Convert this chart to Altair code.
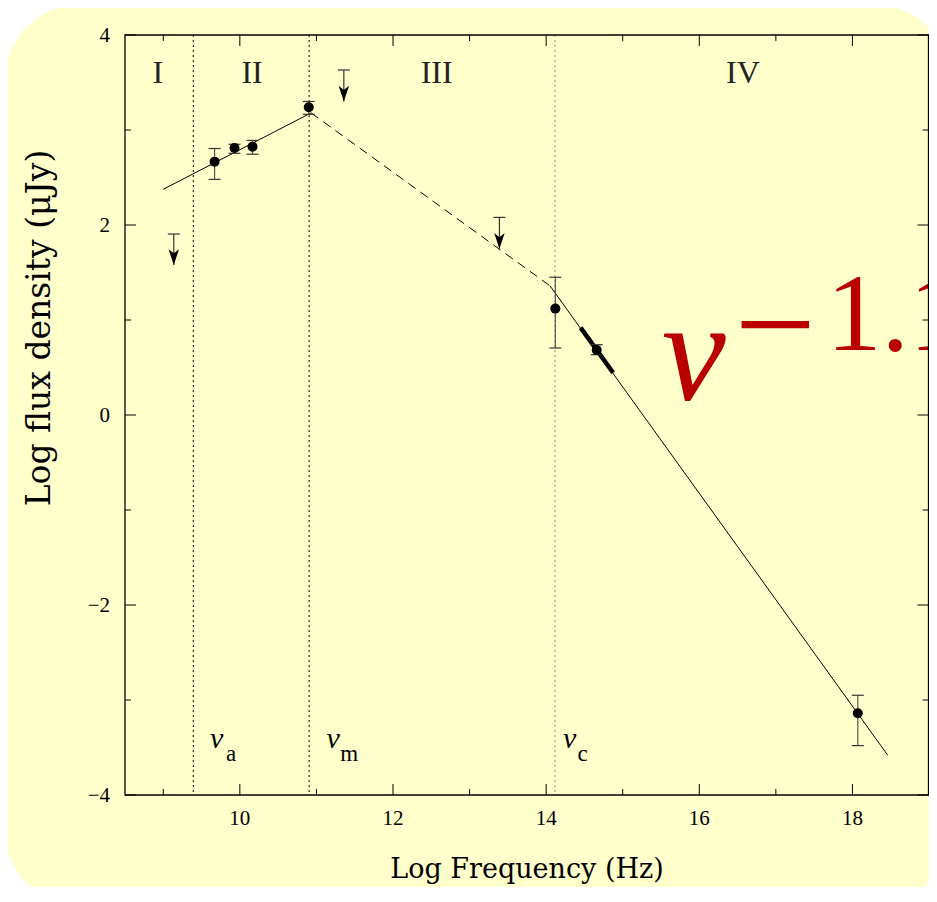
import altair as alt
import pandas as pd

# ---------------- data ----------------
# detections: log frequency, log flux, lower / upper error
det_logf = [9.67, 9.93, 10.165, 10.90, 14.12, 14.66, 18.07]
det_logs = [2.667, 2.81, 2.825, 3.24, 1.12, 0.685, -3.14]
det_lo = [2.48, 2.755, 2.745, 3.165, 0.705, 0.635, -3.48]
det_hi = [2.805, 2.85, 2.89, 3.30, 1.45, 0.74, -2.95]

# upper limits: log frequency, top of limit bar, arrow tip
ul_logf = [9.137, 11.358, 13.39]
ul_top = [1.905, 3.632, 2.08]
ul_tip = [1.58, 3.30, 1.75]

# model spectrum segments
seg_name = ["a", "a", "b", "b", "c", "c"]
seg_x = [9.0, 10.93, 10.93, 14.05, 14.05, 18.46]
seg_y = [2.376, 3.18, 3.18, 1.36, 1.36, -3.58]
seg_dash = ["solid", "solid", "dash", "dash", "solid", "solid"]

# optical spectral slope (thick)
opt_x = [14.45, 14.875]
opt_y = [0.92, 0.445]

# break frequencies
break_x = [9.392, 10.905, 14.115]
break_col = ["#000000", "#000000", "#8c8c8c"]

# region labels
region_txt = ["I", "II", "III", "IV"]
region_x = [8.93, 10.16, 12.57, 16.57]
region_y = [3.495, 3.495, 3.495, 3.495]

# break labels
nu_sub = ["a", "m", "c"]
nu_x = [9.61, 11.13, 14.22]
nu_y = [-3.505, -3.505, -3.505]
sub_x = [9.82, 11.31, 14.41]
sub_y = [-3.64, -3.64, -3.64]

# big annotation  nu^(-1.1)
big_nu_x, big_nu_y = [15.51], [0.158]
big_minus_x, big_minus_y = [16.46], [0.44]
big_num_x, big_num_y = [17.66], [0.684]

# axis ticks and labels
x_major = [10, 12, 14, 16, 18]
x_minor = [9, 11, 13, 15, 17]
y_major = [-4, -2, 0, 2, 4]
y_minor = [-3, -1, 1, 3]
x_title = "Log Frequency (Hz)"
y_title = "Log flux density (μJy)"

# ---------------- chart ----------------
W, H = 804, 760
xs = alt.Scale(domain=[8.5, 19], nice=False, zero=False)
ys = alt.Scale(domain=[-4, 4], nice=False, zero=False)
SERIF = "Liberation Serif"

det = pd.DataFrame({"x": det_logf, "y": det_logs, "lo": det_lo, "hi": det_hi})
ul = pd.DataFrame({"x": ul_logf, "top": ul_top, "tip": ul_tip})
seg = pd.DataFrame({"g": seg_name, "x": seg_x, "y": seg_y, "d": seg_dash})
opt = pd.DataFrame({"x": opt_x, "y": opt_y})
brk = pd.DataFrame({"x": break_x, "c": break_col})
reg = pd.DataFrame({"t": region_txt, "x": region_x, "y": region_y})
nu = pd.DataFrame({"s": nu_sub, "x": nu_x, "y": nu_y, "sx": sub_x, "sy": sub_y})


def lab(v):
    return str(v).replace("-", "\u2212")


xlab = pd.DataFrame({"v": x_major, "t": [lab(v) for v in x_major]})
ylab = pd.DataFrame({"v": y_major, "t": [lab(v) for v in y_major]})

X = lambda f: alt.X(f, type="quantitative", scale=xs, axis=None)
Y = lambda f: alt.Y(f, type="quantitative", scale=ys, axis=None)
one = alt.Data(values=[{"a": 1}])

bg = alt.Chart(one).mark_rect(color="#ffffcc", cornerRadius=75).encode(
    x=alt.value(-120), x2=alt.value(825), y=alt.value(-30), y2=alt.value(870)
)

breaks = alt.Chart(brk).mark_rule(strokeDash=[2, 3], strokeWidth=1).encode(
    x=X("x"), color=alt.Color("c:N", scale=None)
)

lines_solid = alt.Chart(seg).transform_filter(alt.datum.d == "solid").mark_line(
    color="black", strokeWidth=1
).encode(x=X("x"), y=Y("y"), detail="g:N")

lines_dash = alt.Chart(seg).transform_filter(alt.datum.d == "dash").mark_line(
    color="black", strokeWidth=1, strokeDash=[9, 6]
).encode(x=X("x"), y=Y("y"), detail="g:N")

optical = alt.Chart(opt).mark_line(color="black", strokeWidth=4.5).encode(
    x=X("x"), y=Y("y")
)

err = alt.Chart(det).mark_rule(color="#555555", strokeWidth=1.2).encode(
    x=X("x"), y=Y("lo"), y2="hi"
)

caps = alt.Chart(det).transform_fold(["lo", "hi"], as_=["k", "v"]).mark_point(
    shape="M-1,0L1,0", size=144, filled=False, stroke="#333333", strokeWidth=1.2, opacity=1
).encode(x=X("x"), y=Y("v:Q"))

pts = alt.Chart(det).mark_point(
    shape="circle", filled=True, size=100, color="black", opacity=1
).encode(x=X("x"), y=Y("y"))

ul_bar = alt.Chart(ul).mark_rule(color="#333333", strokeWidth=1.2).encode(
    x=X("x"), y=Y("top"), y2="tip"
)
ul_cap = alt.Chart(ul).mark_point(
    shape="M-1,0L1,0", size=144, filled=False, stroke="#333333", strokeWidth=1.2, opacity=1
).encode(x=X("x"), y=Y("top"))
ul_head = alt.Chart(ul).mark_point(
    shape="M0,0L-1,-3L0,-2.2L1,-3Z", size=110, filled=True, color="black", opacity=1
).encode(x=X("x"), y=Y("tip"))

regions = alt.Chart(reg).mark_text(
    font=SERIF, fontSize=32, color="#222222", align="center", baseline="alphabetic"
).encode(x=X("x"), y=Y("y"), text="t:N")

nu_sym = alt.Chart(nu).mark_text(
    font=SERIF, fontSize=30, fontStyle="italic", color="black", align="left",
    baseline="alphabetic", text="ν"
).encode(x=X("x"), y=Y("y"))
nu_subs = alt.Chart(nu).mark_text(
    font=SERIF, fontSize=23, color="black", align="left", baseline="alphabetic"
).encode(x=X("sx"), y=Y("sy"), text="s:N")

big_nu = alt.Chart(pd.DataFrame({"x": big_nu_x, "y": big_nu_y})).mark_text(
    font=SERIF, fontSize=144, fontStyle="italic", color="#bb0000", align="left",
    baseline="alphabetic", text="ν"
).encode(x=X("x"), y=Y("y"))
big_minus = alt.Chart(pd.DataFrame({"x": big_minus_x, "y": big_minus_y})).mark_text(
    font=SERIF, fontSize=145, color="#bb0000", align="left",
    baseline="alphabetic", text="−"
).encode(x=X("x"), y=Y("y"))
big_num = alt.Chart(pd.DataFrame({"x": big_num_x, "y": big_num_y})).mark_text(
    font=SERIF, fontSize=110, color="#bb0000", align="left",
    baseline="alphabetic", text="1.1"
).encode(x=X("x"), y=Y("y"))

# tick labels through the scales
xlabels = alt.Chart(xlab).mark_text(
    font=SERIF, fontSize=21, color="black", align="center", baseline="alphabetic"
).encode(x=X("v"), y=alt.value(H + 30), text="t:N")
ylabels = alt.Chart(ylab).mark_text(
    font=SERIF, fontSize=21, color="black", align="right", baseline="alphabetic", dy=7
).encode(y=Y("v"), x=alt.value(-15), text="t:N")

xtitle = alt.Chart(one).mark_text(
    font="DejaVu Serif", fontSize=27, color="black", align="center",
    baseline="alphabetic", text=x_title
).encode(x=alt.value(W / 2), y=alt.value(843))
ytitle = alt.Chart(one).mark_text(
    font="DejaVu Serif", fontSize=33, color="black", align="center",
    baseline="alphabetic", angle=270, text=y_title
).encode(x=alt.value(-75), y=alt.value(293))

tick_layers = []
for vals, L in [(x_major, 11), (x_minor, 6)]:
    d = pd.DataFrame({"v": vals})
    tick_layers.append(alt.Chart(d).mark_rule(color="black", strokeWidth=1).encode(
        x=X("v"), y=alt.value(H), y2=alt.value(H - L)))
    tick_layers.append(alt.Chart(d).mark_rule(color="black", strokeWidth=1).encode(
        x=X("v"), y=alt.value(0), y2=alt.value(L)))
for vals, L in [(y_major, 11), (y_minor, 6)]:
    d = pd.DataFrame({"v": vals})
    tick_layers.append(alt.Chart(d).mark_rule(color="black", strokeWidth=1).encode(
        y=Y("v"), x=alt.value(0), x2=alt.value(L)))
    tick_layers.append(alt.Chart(d).mark_rule(color="black", strokeWidth=1).encode(
        y=Y("v"), x=alt.value(W - 0.5), x2=alt.value(W - 0.5 - L)))

frame = alt.Chart(one).mark_rect(
    fill="transparent", stroke="black", strokeWidth=1.3
).encode(x=alt.value(0), x2=alt.value(W - 0.5), y=alt.value(0), y2=alt.value(H))

chart = alt.layer(
    bg, breaks, lines_solid, lines_dash, optical, err, caps, pts,
    ul_bar, ul_cap, ul_head, regions, nu_sym, nu_subs,
    big_nu, big_minus, big_num,
    xlabels, ylabels, xtitle, ytitle,
    *tick_layers, frame
).properties(
    width=W, height=H,
    padding={"left": 117, "top": 27, "right": 0, "bottom": 92},
    autosize=alt.AutoSizeParams(type="none"),
    background="white",
).configure_view(stroke="transparent")

chart.save("out.html", embed_options={"renderer": "svg", "actions": False})
